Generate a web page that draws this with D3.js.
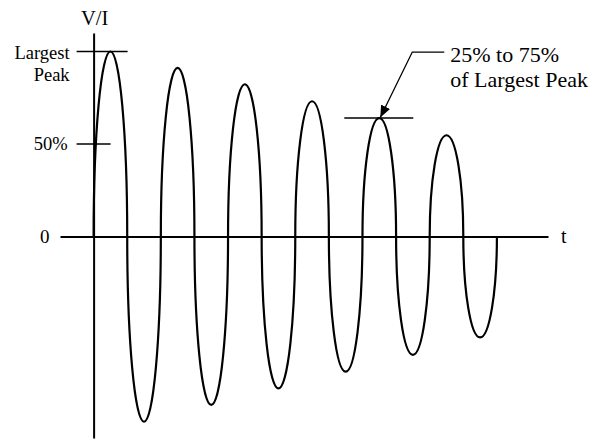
<!DOCTYPE html>
<html>
<head>
<meta charset="utf-8">
<script src="https://cdn.jsdelivr.net/npm/d3@7"></script>
<style>
  body { margin: 0; background: #fff; }
  svg { display: block; }
  text { font-family: "Liberation Serif", "Times New Roman", serif; fill: #000; }
  .domain { stroke: #000; stroke-width: 2; }
</style>
</head>
<body>
<div class="chart"></div>
<script>
// waveform key points, t in periods, values in % of largest peak
var zeroTimes = [0, 0.5, 1, 1.5, 2, 2.5, 3, 3.5, 4, 4.5, 5, 5.5, 6];
var peakTimes = [0.25, 1.25, 2.25, 3.25, 4.25, 5.25];
var peakValues = [100, 91.1, 82.3, 73.1, 64.0, 54.7];
var troughTimes = [0.75, 1.75, 2.75, 3.75, 4.75, 5.75];
var troughValues = [-100.2, -91.1, -82.2, -73.1, -64.0, -54.6];

// y-axis labels
var tickValues = [100, 50];
var tickLabels = [["Largest", "Peak"], ["50%"]];
var markedPeak = 4; // the peak with the annotation
var noteLines = ["25% to 75%", "of Largest Peak"];

(function () {

  var width = 607, height = 441;

  var svg = d3.select(".chart")
    .append("svg")
    .attr("width", width)
    .attr("height", height);

  var x = d3.scaleLinear().domain([-0.5, 6.76]).range([60, 548]);
  var y = d3.scaleLinear().domain([-109, 110]).range([438, 33]);

  // build the point list in time order
  var points = zeroTimes.map(function (t) { return { t: t, v: 0 }; })
    .concat(peakTimes.map(function (t, i) { return { t: t, v: peakValues[i] }; }))
    .concat(troughTimes.map(function (t, i) { return { t: t, v: troughValues[i] }; }))
    .sort(function (a, b) { return a.t - b.t; });

  // axes (just the lines)
  svg.append("g")
    .attr("transform", "translate(0," + y(0) + ")")
    .call(d3.axisBottom(x).tickValues([]).tickSizeOuter(0));

  svg.append("g")
    .attr("transform", "translate(" + x(0) + ",0)")
    .call(d3.axisLeft(y).tickValues([]).tickSizeOuter(0));

  // wave: each half cycle is a half ellipse
  // (vertical at the zero crossings, flat at the peaks)
  var K = 0.5523;
  var p = d3.path();
  p.moveTo(x(points[0].t), y(points[0].v));
  for (var i = 1; i < points.length; i++) {
    var a = points[i - 1], b = points[i];
    var x0 = x(a.t), y0 = y(a.v), x1 = x(b.t), y1 = y(b.v);
    if (a.v === 0) {
      // crossing -> peak/trough
      p.bezierCurveTo(x0, y0 + K * (y1 - y0), x1 - K * (x1 - x0), y1, x1, y1);
    } else {
      // peak/trough -> crossing
      p.bezierCurveTo(x0 + K * (x1 - x0), y0, x1, y1 + K * (y0 - y1), x1, y1);
    }
  }

  svg.append("path")
    .attr("d", p.toString())
    .attr("fill", "none")
    .attr("stroke", "#000")
    .attr("stroke-width", 2.2);

  // y ticks: Largest Peak and 50%
  var ticks = svg.selectAll(".ytick")
    .data(tickValues)
    .enter()
    .append("g")
    .attr("class", "ytick");

  ticks.append("line")
    .attr("x1", x(0) - 17)
    .attr("x2", function (d, i) { return x(0) + (i === 0 ? 34 : 17); })
    .attr("y1", function (d) { return y(d); })
    .attr("y2", function (d) { return y(d); })
    .attr("stroke", "#000")
    .attr("stroke-width", 1.5);

  ticks.each(function (d, i) {
    var lines = tickLabels[i];
    var t = d3.select(this).append("text")
      .attr("text-anchor", "end")
      .style("font-size", "18.5px");
    lines.forEach(function (s, j) {
      t.append("tspan")
        .attr("x", x(0) - (i === 0 ? 24 : 26))
        .attr("y", y(d) + (i === 0 ? 8 : 6) + j * 22)
        .text(s);
    });
  });

  // axis labels
  svg.append("text")
    .attr("x", x(0) + 1)
    .attr("y", 25)
    .attr("text-anchor", "middle")
    .style("font-size", "20.5px")
    .text("V/I");

  svg.append("text")
    .attr("x", 49.5)
    .attr("y", y(0) + 6.5)
    .attr("text-anchor", "end")
    .style("font-size", "19px")
    .text("0");

  svg.append("text")
    .attr("x", 561)
    .attr("y", y(0) + 6.5)
    .style("font-size", "20px")
    .text("t");

  // marker line on the annotated peak
  var px = x(peakTimes[markedPeak]), py = y(peakValues[markedPeak]);

  svg.append("line")
    .attr("x1", px - 35)
    .attr("x2", px + 34)
    .attr("y1", py)
    .attr("y2", py)
    .attr("stroke", "#000")
    .attr("stroke-width", 1.5);

  // arrow
  svg.append("defs").append("marker")
    .attr("id", "arrow")
    .attr("viewBox", "0 0 12 10")
    .attr("refX", 12)
    .attr("refY", 5)
    .attr("markerWidth", 12)
    .attr("markerHeight", 10)
    .attr("markerUnits", "userSpaceOnUse")
    .attr("orient", "auto")
    .append("path")
    .attr("d", "M0,0L12,5L0,10Z")
    .attr("fill", "#000");

  svg.append("path")
    .attr("d", "M" + (px + 65) + "," + (py - 66) + "H" + (px + 33) + "L" + (px + 1) + "," + (py - 0.5))
    .attr("fill", "none")
    .attr("stroke", "#000")
    .attr("stroke-width", 1.3)
    .attr("marker-end", "url(#arrow)");

  var note = svg.append("text")
    .style("font-size", "22px");
  noteLines.forEach(function (s, j) {
    note.append("tspan")
      .attr("x", px + 71)
      .attr("y", py - 56 + j * 25)
      .text(s);
  });

})();
</script>
</body>
</html>
